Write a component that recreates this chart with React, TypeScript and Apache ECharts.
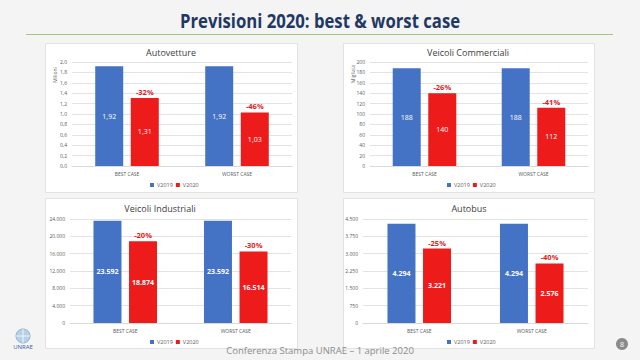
import React, { useEffect, useRef } from 'react';
import * as echarts from 'echarts';

const categories = ['BEST CASE', 'WORST CASE'];
const seriesNames = ['V2019', 'V2020'];

const autoV2019 = [1.92, 1.92];
const autoV2020 = [1.31, 1.03];
const autoPct = ['-32%', '-46%'];

const commV2019 = [188, 188];
const commV2020 = [140, 112];
const commPct = ['-26%', '-41%'];

const indV2019 = [23592, 23592];
const indV2020 = [18874, 16514];
const indPct = ['-20%', '-30%'];

const busV2019 = [4294, 4294];
const busV2020 = [3221, 2576];
const busPct = ['-25%', '-40%'];

const autoAxis = { min: 0, max: 2, interval: 0.2 };
const commAxis = { min: 0, max: 200, interval: 20 };
const indAxis = { min: 0, max: 24000, interval: 4000 };
const busAxis = { min: 0, max: 4500, interval: 750 };

const fmtComma = (d: number) => (v: number) => v.toFixed(d).replace('.', ',');
const fmtDots = (v: number) => String(Math.round(v)).replace(/\B(?=(\d{3})+(?!\d))/g, '.');
const fmtInt = (v: number) => String(Math.round(v));

const FONT = '"Open Sans", "Noto Sans", sans-serif';
const BLUE = '#4472c4';
const RED = '#ee1b1b';

const panels = [
  {
    title: 'Autovetture', unit: 'Milioni', v1: autoV2019, v2: autoV2020, pct: autoPct, axis: autoAxis,
    axisFmt: fmtComma(1), valFmt: fmtComma(2), bold: false,
    box: [45, 43, 252, 149], grid: { left: 72, top: 62, width: 220, height: 104 },
    titleX: 171, titleY: 52, legendX: 150, legendY: 182, unitX: 55, unitY: 75,
  },
  {
    title: 'Veicoli Commerciali', unit: 'Migliaia', v1: commV2019, v2: commV2020, pct: commPct, axis: commAxis,
    axisFmt: fmtInt, valFmt: fmtInt, bold: false,
    box: [343, 43, 251, 149], grid: { left: 370, top: 62, width: 218, height: 104 },
    titleX: 468, titleY: 52, legendX: 447, legendY: 182, unitX: 353, unitY: 74,
  },
  {
    title: 'Veicoli Industriali', unit: '', v1: indV2019, v2: indV2020, pct: indPct, axis: indAxis,
    axisFmt: fmtDots, valFmt: fmtDots, bold: true,
    box: [45, 198, 252, 150], grid: { left: 70, top: 219, width: 221, height: 104 },
    titleX: 160, titleY: 208, legendX: 150, legendY: 339, unitX: 0, unitY: 0,
  },
  {
    title: 'Autobus', unit: '', v1: busV2019, v2: busV2020, pct: busPct, axis: busAxis,
    axisFmt: fmtDots, valFmt: fmtDots, bold: true,
    box: [343, 198, 251, 150], grid: { left: 363, top: 219, width: 225, height: 104 },
    titleX: 469, titleY: 208, legendX: 447, legendY: 339, unitX: 0, unitY: 0,
  },
];

export default function App() {
  const ref = useRef<HTMLDivElement>(null);
  useEffect(() => {
    if (!ref.current) return;
    const chart = echarts.init(ref.current, null, { renderer: 'svg' });

    const grids: any[] = [];
    const xAxes: any[] = [];
    const yAxes: any[] = [];
    const series: any[] = [];
    const legends: any[] = [];
    const graphics: any[] = [];

    panels.forEach((p, i) => {
      graphics.push({
        type: 'rect', z: -10,
        shape: { x: p.box[0] + 0.5, y: p.box[1] + 0.5, width: p.box[2], height: p.box[3] },
        style: { fill: '#ffffff', stroke: '#e2e2e2', lineWidth: 1 },
      });
      graphics.push({
        type: 'text', x: p.titleX, y: p.titleY,
        style: { text: p.title, fill: '#404040', font: `9px ${FONT}`, align: 'center', verticalAlign: 'middle' },
      });
      if (p.unit) {
        graphics.push({
          type: 'text', x: p.unitX, y: p.unitY, rotation: Math.PI / 2,
          style: { text: p.unit, fill: '#595959', font: `5px ${FONT}`, align: 'center', verticalAlign: 'middle' },
        });
      }
      grids.push({ ...p.grid, containLabel: false });
      xAxes.push({
        type: 'category', gridIndex: i, data: categories,
        axisLine: { show: true, lineStyle: { color: '#d9d9d9' } },
        axisTick: { show: false },
        axisLabel: { fontSize: 5, color: '#595959', margin: 5, fontFamily: FONT },
      });
      yAxes.push({
        type: 'value', gridIndex: i, min: p.axis.min, max: p.axis.max, interval: p.axis.interval,
        axisLine: { show: false }, axisTick: { show: false },
        splitLine: { lineStyle: { color: '#e3e3e3' } },
        axisLabel: { fontSize: 5, color: '#595959', margin: 5, fontFamily: FONT, formatter: p.axisFmt },
      });
      const valLabel = {
        show: true, position: 'inside', color: '#ffffff', fontSize: 7, fontFamily: FONT,
        fontWeight: p.bold ? 'bold' : 'normal',
        formatter: (d: any) => p.valFmt(d.value),
      };
      series.push({
        type: 'bar', name: seriesNames[0], xAxisIndex: i, yAxisIndex: i, stack: 'a' + i,
        data: p.v1, barWidth: 28, itemStyle: { color: BLUE }, label: valLabel,
      });
      series.push({
        type: 'bar', name: seriesNames[1], xAxisIndex: i, yAxisIndex: i, stack: 'b' + i,
        data: p.v2, barWidth: 28, barGap: '27%', itemStyle: { color: RED }, label: valLabel,
      });
      series.push({
        type: 'bar', name: 'pct' + i, xAxisIndex: i, yAxisIndex: i, stack: 'b' + i,
        data: p.v2.map(() => 0), barWidth: 28, barGap: '27%', itemStyle: { color: 'transparent' },
        label: {
          show: true, position: 'top', distance: 2, color: '#e41a1a', fontSize: 7.5, fontWeight: 'bold',
          fontFamily: FONT, formatter: (d: any) => p.pct[d.dataIndex],
        },
        tooltip: { show: false },
      });
      legends.push({
        left: p.legendX, top: p.legendY, data: seriesNames, icon: 'rect', padding: 0,
        itemWidth: 4, itemHeight: 4, itemGap: 3,
        textStyle: { fontSize: 5.5, color: '#595959', fontFamily: FONT, padding: [0, 0, 0, -2] },
        selectedMode: false,
      });
    });

    graphics.push({
      type: 'text', x: 320, y: 21, scaleX: 0.88,
      style: { text: 'Previsioni 2020: best & worst case', fill: '#1f3864', font: `bold 19px ${FONT}`, align: 'center', verticalAlign: 'middle' },
    });
    graphics.push({
      type: 'line', shape: { x1: 26, y1: 34.5, x2: 613, y2: 34.5 },
      style: { stroke: '#a9c47f', lineWidth: 1 },
    });
    graphics.push({
      type: 'text', x: 320, y: 350,
      style: { text: 'Conferenza Stampa UNRAE – 1 aprile 2020', fill: '#8c8c8c', font: `9.5px ${FONT}`, align: 'center', verticalAlign: 'middle' },
    });
    graphics.push({
      type: 'circle', shape: { cx: 23, cy: 336, r: 7 },
      style: { fill: '#b7d0ea', stroke: '#7fa6cf', lineWidth: 0.8 },
    });
    graphics.push({
      type: 'line', shape: { x1: 16, y1: 336, x2: 30, y2: 336 },
      style: { stroke: '#ffffff', lineWidth: 0.8 },
    });
    graphics.push({
      type: 'line', shape: { x1: 23, y1: 329, x2: 23, y2: 343 },
      style: { stroke: '#ffffff', lineWidth: 0.8 },
    });
    graphics.push({
      type: 'text', x: 23, y: 347,
      style: { text: 'UNRAE', fill: '#3a5e9c', font: `6px ${FONT}`, align: 'center', verticalAlign: 'middle' },
    });
    graphics.push({
      type: 'circle', shape: { cx: 622, cy: 344, r: 6 },
      style: { fill: '#8a8a8a' },
    });
    graphics.push({
      type: 'text', x: 622, y: 344.5,
      style: { text: '8', fill: '#ffffff', font: `7px ${FONT}`, align: 'center', verticalAlign: 'middle' },
    });

    chart.setOption({
      animation: false,
      backgroundColor: '#f4f4f4',
      grid: grids,
      xAxis: xAxes,
      yAxis: yAxes,
      series,
      legend: legends,
      graphic: graphics,
    });
    return () => chart.dispose();
  }, []);
  return <div ref={ref} style={{ position: 'fixed', left: 0, top: 0, width: 640, height: 360 }} />;
}
